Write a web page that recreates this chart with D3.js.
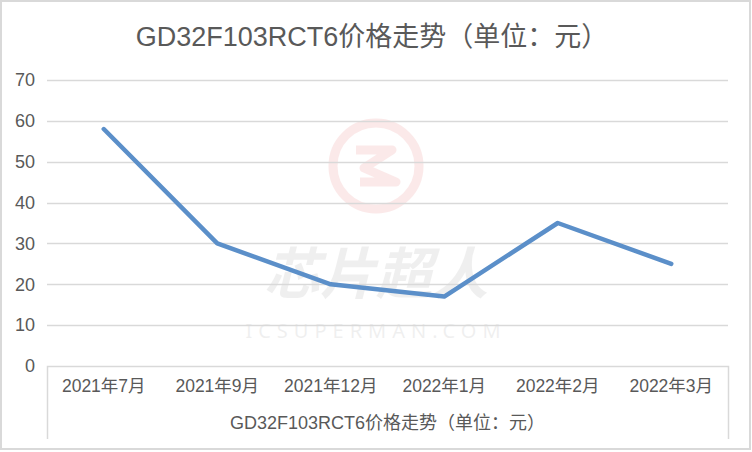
<!DOCTYPE html>
<html><head><meta charset="utf-8">
<script src="https://cdn.jsdelivr.net/npm/d3@7"></script>
<style>
html,body{margin:0;padding:0;background:#fff;}
svg{display:block;}
text{font-family:"Liberation Sans","Noto Sans CJK SC",sans-serif;}
</style></head>
<body>
<svg id="chart" width="752" height="452"></svg>
<script>
const categories = ["2021年7月","2021年9月","2021年12月","2022年1月","2022年2月","2022年3月"];
const prices = [58, 30, 20, 17, 35, 25];
const yTicks = [0,10,20,30,40,50,60,70];
const titleText = "GD32F103RCT6价格走势（单位：元）";
const axisTitle = "GD32F103RCT6价格走势（单位：元）";

const svg = d3.select("#chart");
const W = 752, H = 452;
const m = {left:47, right:24, top:80, bottom:86};

// outer border
svg.append("rect").attr("x",1).attr("y",1).attr("width",W-3).attr("height",H-4)
  .attr("fill","#fff").attr("stroke","#d9d9d9").attr("stroke-width",2);

const x = d3.scaleBand().domain(categories).range([m.left, W-m.right]).padding(0);
const y = d3.scaleLinear().domain([0,70]).range([H-m.bottom, m.top]);

// watermark
const wm = svg.append("g").attr("opacity",0.1);
wm.append("circle").attr("cx",376).attr("cy",166).attr("r",43).attr("fill","none").attr("stroke","#e03030").attr("stroke-width",9);
wm.append("path").attr("d","M356,150 L392,150 L364,168 L396,182 L360,182")
  .attr("fill","none").attr("stroke","#e03030").attr("stroke-width",9).attr("stroke-linejoin","round");
svg.append("text").attr("x",376).attr("y",294).attr("text-anchor","middle")
  .attr("font-size",56).attr("font-weight","bold").attr("fill","#000").attr("opacity",0.06)
  .style("font-family","'Noto Sans CJK SC',sans-serif").style("font-style","italic")
  .text("芯片超人");
svg.append("text").attr("x",376).attr("y",338).attr("text-anchor","middle")
  .attr("font-size",20).attr("letter-spacing",6).attr("fill","#000").attr("opacity",0.06)
  .style("font-family","'Noto Sans',sans-serif")
  .text("ICSUPERMAN.COM");

// gridlines
svg.append("g").selectAll("line").data(yTicks.filter(d=>d>0)).join("line")
  .attr("x1",m.left).attr("x2",W-m.right)
  .attr("y1",d=>Math.round(y(d))+0.5).attr("y2",d=>Math.round(y(d))+0.5)
  .attr("stroke","#d9d9d9").attr("stroke-width",1.5);

// y axis labels
const yAxis = d3.axisLeft(y).tickValues(yTicks).tickSize(0).tickPadding(12);
const ya = svg.append("g").attr("transform",`translate(${m.left},0)`).call(yAxis);
ya.select(".domain").remove();
ya.selectAll("text").attr("font-size",18).attr("fill","#595959")
  .style("font-family","'Liberation Sans',sans-serif");

// category box
const y0 = Math.round(y(0))+0.5;
svg.append("path")
  .attr("d",`M${m.left+0.5},439 L${m.left+0.5},${y0} L${W-m.right+0.5},${y0} L${W-m.right+0.5},439`)
  .attr("fill","none").attr("stroke","#d9d9d9").attr("stroke-width",1.5);

// x axis labels
const xAxis = d3.axisBottom(x).tickSize(0).tickPadding(14);
const xa = svg.append("g").attr("transform",`translate(0,${y(0)})`).call(xAxis);
xa.select(".domain").remove();
xa.selectAll("text").attr("font-size",17.5).attr("fill","#595959")
  .style("font-family","'Liberation Sans','Noto Sans CJK SC',sans-serif");

// axis title
svg.append("text").attr("x",(m.left+W-m.right)/2).attr("y",429).attr("text-anchor","middle")
  .attr("font-size",18).attr("fill","#595959").text(axisTitle);

// title
svg.append("text").attr("x",372).attr("y",46).attr("text-anchor","middle")
  .attr("font-size",27).attr("fill","#595959").text(titleText);

// line
const line = d3.line().x((d,i)=>x(categories[i])+x.bandwidth()/2).y(d=>y(d));
svg.append("path").datum(prices).attr("d",line)
  .attr("fill","none").attr("stroke","#5b8fc9").attr("stroke-width",4.5)
  .attr("stroke-linecap","round").attr("stroke-linejoin","round");
</script>
</body></html>
